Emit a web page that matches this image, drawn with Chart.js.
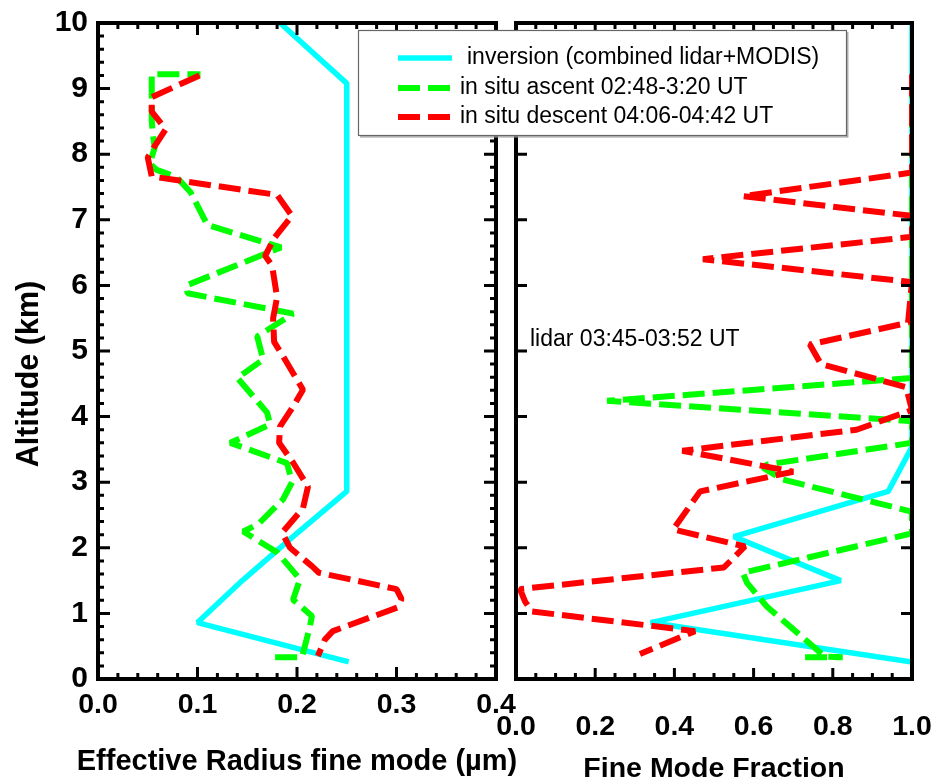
<!DOCTYPE html>
<html>
<head>
<meta charset="utf-8">
<script src="https://cdn.jsdelivr.net/npm/chart.js@4.4.1/dist/chart.umd.min.js"></script>
<style>
html,body{margin:0;padding:0;background:#fff;}
#wrap{position:relative;width:935px;height:783px;overflow:hidden;}
#wrap canvas{position:absolute;left:0;top:0;}
</style>
</head>
<body>
<div id="wrap">
<canvas id="rightChart" width="935" height="783"></canvas>
<canvas id="leftChart" width="935" height="783"></canvas>
</div>
<script>
// ---------------- data ----------------
const seriesNames = ['inversion (combined lidar+MODIS)', 'in situ ascent 02:48-3:20 UT', 'in situ descent 04:06-04:42 UT'];
const lidarNote = 'lidar 03:45-03:52 UT';
const leftXTitle = 'Effective Radius fine mode (µm)';
const rightXTitle = 'Fine Mode Fraction';
const yTitle = 'Altitude (km)';

// inversion profile (altitude km)
const invAlt  = [10, 9.08, 3.54, 2.86, 2.17, 1.5, 0.86, 0.26];
const invReff = [0.183, 0.25, 0.25, 0.25, 0.196, 0.145, 0.10, 0.252];
const invFmf  = [1.0, 1.0, 1.0, 0.94, 0.55, 0.82, 0.34, 1.0];

// in situ ascent: effective radius
const ascAltR = [0.33, 0.33, 0.80, 0.96, 1.21, 1.52, 1.93, 2.25, 2.36, 2.74, 3.0, 3.29, 3.6, 3.88, 4.06, 4.59, 4.87, 5.22, 5.57, 5.88, 6.0, 6.58, 6.92, 7.42, 7.65, 7.76, 7.86, 8.1, 8.32, 8.52, 9.22, 9.22];
const ascReff = [0.178, 0.205, 0.213, 0.215, 0.196, 0.203, 0.180, 0.146, 0.161, 0.186, 0.195, 0.190, 0.133, 0.173, 0.170, 0.140, 0.166, 0.160, 0.196, 0.090, 0.089, 0.184, 0.110, 0.093, 0.079, 0.059, 0.052, 0.057, 0.055, 0.054, 0.054, 0.103];

// in situ descent: effective radius
const descAltR = [9.2, 8.87, 8.65, 8.38, 8.1, 7.95, 7.66, 7.38, 7.06, 6.72, 6.45, 6.3, 5.82, 5.5, 5.14, 4.92, 4.41, 4.15, 3.85, 3.6, 3.3, 2.93, 2.6, 2.23, 2.0, 1.72, 1.62, 1.37, 1.22, 1.09, 0.73, 0.6, 0.35];
const descReff = [0.102, 0.054, 0.054, 0.068, 0.056, 0.050, 0.054, 0.180, 0.195, 0.177, 0.168, 0.175, 0.180, 0.176, 0.177, 0.186, 0.206, 0.196, 0.183, 0.182, 0.196, 0.211, 0.206, 0.185, 0.193, 0.215, 0.222, 0.300, 0.305, 0.301, 0.236, 0.228, 0.221];

// in situ ascent: fine mode fraction
const ascAltF = [0.33, 0.33, 0.34, 0.76, 1.1, 1.47, 1.62, 2.22, 2.55, 3.04, 3.22, 3.27, 3.6, 3.93, 4.24, 4.59, 9.22];
const ascFmf  = [0.73, 0.825, 0.78, 0.70, 0.634, 0.583, 0.573, 1.0, 1.0, 0.674, 0.624, 0.635, 1.0, 1.0, 0.23, 1.0, 1.0];

// in situ descent: fine mode fraction
const descAltF = [9.22, 7.72, 7.36, 7.06, 6.74, 6.40, 6.05, 5.43, 5.10, 4.80, 4.45, 4.10, 3.80, 3.48, 3.16, 2.86, 2.28, 2.02, 1.70, 1.37, 1.18, 1.03, 0.73, 0.38];
const descFmf  = [1.0, 1.0, 0.573, 1.0, 1.0, 0.472, 1.0, 0.99, 0.742, 0.77, 0.985, 1.0, 0.86, 0.42, 0.70, 0.465, 0.397, 0.578, 0.525, 0.01, 0.023, 0.04, 0.452, 0.313];

// axis ticks
const altTicks = [0,1,2,3,4,5,6,7,8,9,10];
const altTickLabels = ['0','1','2','3','4','5','6','7','8','9','10'];
const reffTicks = [0, 0.1, 0.2, 0.3, 0.4];
const reffTickLabels = ['0.0','0.1','0.2','0.3','0.4'];
const fmfTicks = [0, 0.2, 0.4, 0.6, 0.8, 1.0];
const fmfTickLabels = ['0.0','0.2','0.4','0.6','0.8','1.0'];

// ---------------- setup ----------------
const FONT = "'Liberation Sans', Arial, Helvetica, sans-serif";
Chart.defaults.font.family = FONT;
Chart.defaults.color = '#000';

function pts(xs, ys) { return xs.map((x, i) => ({ x: x, y: ys[i] })); }

const CYAN = '#00ffff', GREEN = '#00ff00', RED = '#ff0000';
const DASH = [22, 8];

function makeDatasets(xInv, xAsc, yAsc, xDesc, yDesc) {
  const common = { showLine: true, pointRadius: 0, clip: 0, borderJoinStyle: 'bevel', borderCapStyle: 'butt' };
  return [
    Object.assign({ label: seriesNames[0], data: pts(xInv, invAlt), borderColor: CYAN, backgroundColor: CYAN, borderWidth: 5.5, order: 3 }, common),
    Object.assign({ label: seriesNames[1], data: pts(xAsc, yAsc), borderColor: GREEN, backgroundColor: GREEN, borderWidth: 6, borderDash: DASH, order: 2 }, common),
    Object.assign({ label: seriesNames[2], data: pts(xDesc, yDesc), borderColor: RED, backgroundColor: RED, borderWidth: 6, borderDash: DASH, order: 1 }, common)
  ];
}

function noPad(s) { s.paddingLeft = 0; s.paddingRight = 0; s.paddingTop = 0; s.paddingBottom = 0; }

// inward tick marks and frame
const frameTicks = {
  id: 'frameTicks',
  afterDatasetsDraw(chart, args, o) {
    const ctx = chart.ctx, a = chart.chartArea, xs = chart.scales.x, ys = chart.scales.y;
    ctx.save();
    ctx.strokeStyle = '#000';
    ctx.lineCap = 'butt';
    ctx.lineWidth = o.tickWidth;
    const loop = (min, max, step, fn) => {
      const n = Math.round((max - min) / step);
      for (let i = 0; i <= n; i++) fn(min + i * step);
    };
    const isMajor = (v, major) => Math.abs(v / major - Math.round(v / major)) < 1e-6;
    ctx.beginPath();
    loop(xs.min, xs.max, o.xMinor || o.xMajor, (v) => {
      const px = xs.getPixelForValue(v);
      const len = isMajor(v, o.xMajor) ? o.majorLen : o.minorLen;
      ctx.moveTo(px, a.top); ctx.lineTo(px, a.top + len);
      ctx.moveTo(px, a.bottom); ctx.lineTo(px, a.bottom - len);
    });
    loop(ys.min, ys.max, o.yMinor || o.yMajor, (v) => {
      const py = ys.getPixelForValue(v);
      const len = isMajor(v, o.yMajor) ? o.majorLen : o.minorLen;
      ctx.moveTo(a.left, py); ctx.lineTo(a.left + len, py);
      ctx.moveTo(a.right, py); ctx.lineTo(a.right - len, py);
    });
    ctx.stroke();
    ctx.lineWidth = o.frameWidth;
    ctx.strokeRect(a.left, a.top, a.right - a.left, a.bottom - a.top);
    ctx.restore();
  }
};

// boxed legend built from the chart's datasets
const boxLegend = {
  id: 'boxLegend',
  afterDraw(chart, args, o) {
    if (!o.show) return;
    const ctx = chart.ctx;
    ctx.save();
    ctx.fillStyle = '#fff';
    ctx.fillRect(o.x, o.y, o.w, o.h);
    ctx.strokeStyle = '#666';
    ctx.lineWidth = 1.2;
    ctx.strokeRect(o.x + 0.5, o.y + 0.5, o.w, o.h);
    ctx.strokeStyle = '#999';
    ctx.beginPath();
    ctx.moveTo(o.x + 2, o.y + o.h + 1.8); ctx.lineTo(o.x + o.w + 1.8, o.y + o.h + 1.8); ctx.lineTo(o.x + o.w + 1.8, o.y + 2);
    ctx.stroke();
    chart.data.datasets.forEach((ds, i) => {
      const yy = o.rows[i];
      ctx.strokeStyle = ds.borderColor;
      ctx.lineWidth = ds.borderWidth;
      ctx.lineCap = 'butt';
      ctx.setLineDash(ds.borderDash || []);
      ctx.beginPath();
      ctx.moveTo(o.lineX0, yy); ctx.lineTo(o.lineX1, yy);
      ctx.stroke();
      ctx.setLineDash([]);
      ctx.fillStyle = '#000';
      ctx.font = o.fontSize + 'px ' + FONT;
      ctx.textBaseline = 'middle';
      ctx.textAlign = 'left';
      ctx.fillText(ds.label, o.textX + (i === 0 ? o.firstIndent : 0), yy);
    });
    ctx.restore();
  }
};

// free text items
const textItems = {
  id: 'textItems',
  afterDraw(chart, args, o) {
    const ctx = chart.ctx;
    (o.items || []).forEach(t => {
      ctx.save();
      ctx.fillStyle = '#000';
      ctx.font = (t.weight || 'normal') + ' ' + t.size + 'px ' + FONT;
      ctx.textBaseline = 'middle';
      ctx.textAlign = t.align || 'left';
      ctx.translate(t.x, t.y);
      if (t.rotation) ctx.rotate(t.rotation);
      ctx.fillText(t.text, 0, 0);
      ctx.restore();
    });
  }
};

const xTickFont = { size: 28.5, weight: 'bold' };
const yTickFont = { size: 30, weight: 'bold' };

// ---------------- right panel (Fine Mode Fraction) ----------------
new Chart(document.getElementById('rightChart'), {
  type: 'scatter',
  data: { datasets: makeDatasets(invFmf, ascFmf, ascAltF, descFmf, descAltF) },
  options: {
    responsive: false, animation: false, events: [],
    layout: { padding: { left: 516, top: 23, right: 23, bottom: 0 } },
    plugins: {
      legend: { display: false }, tooltip: { enabled: false },
      frameTicks: { xMinor: 0.05, xMajor: 0.2, yMinor: null, yMajor: 1, majorLen: 11, minorLen: 6, tickWidth: 3, frameWidth: 4 },
      textItems: { items: [ { text: lidarNote, x: 530, y: 340, size: 23 } ] }
    },
    scales: {
      x: {
        type: 'linear', min: 0, max: 1,
        afterBuildTicks: s => { s.ticks = fmfTicks.map(v => ({ value: v })); },
        afterFit: s => { s.height = 104; noPad(s); },
        grid: { display: false, drawTicks: false }, border: { display: false },
        ticks: { padding: 31, font: xTickFont, maxRotation: 0, autoSkip: false, callback: (v, i) => fmfTickLabels[i] },
        title: { display: true, text: rightXTitle, font: { size: 28.5, weight: 'bold', lineHeight: 1 }, padding: { top: 0, bottom: 0 } }
      },
      y: {
        type: 'linear', min: 0, max: 10,
        afterBuildTicks: s => { s.ticks = altTicks.map(v => ({ value: v })); },
        afterFit: s => { s.width = 0; noPad(s); },
        grid: { display: false, drawTicks: false }, border: { display: false },
        ticks: { display: false }
      }
    }
  },
  plugins: [frameTicks, textItems]
});

// ---------------- left panel (Effective Radius) ----------------
new Chart(document.getElementById('leftChart'), {
  type: 'scatter',
  data: { datasets: makeDatasets(invReff, ascReff, ascAltR, descReff, descAltR) },
  options: {
    responsive: false, animation: false, events: [],
    layout: { padding: { left: 0, top: 23, right: 439, bottom: 0 } },
    plugins: {
      legend: { display: false }, tooltip: { enabled: false },
      frameTicks: { xMinor: 0.02, xMajor: 0.1, yMinor: 0.2, yMajor: 1, majorLen: 12, minorLen: 6, tickWidth: 3, frameWidth: 4 },
      boxLegend: { show: true, x: 358, y: 30, w: 488, h: 105, rows: [58, 88, 117], lineX0: 398, lineX1: 452, textX: 460, firstIndent: 7, fontSize: 23 },
      textItems: { items: [
        { text: leftXTitle, x: 297, y: 762, size: 29, weight: 'bold', align: 'center' },
        { text: yTitle, x: 30, y: 374, size: 30.5, weight: 'bold', align: 'center', rotation: -Math.PI / 2 }
      ] }
    },
    scales: {
      x: {
        type: 'linear', min: 0, max: 0.4,
        afterBuildTicks: s => { s.ticks = reffTicks.map(v => ({ value: v })); },
        afterFit: s => { s.height = 104; noPad(s); },
        grid: { display: false, drawTicks: false }, border: { display: false },
        ticks: { padding: 9, font: xTickFont, maxRotation: 0, autoSkip: false, callback: (v, i) => reffTickLabels[i] }
      },
      y: {
        type: 'linear', min: 0, max: 10,
        afterBuildTicks: s => { s.ticks = altTicks.map(v => ({ value: v })); },
        afterFit: s => { s.width = 98; noPad(s); },
        grid: { display: false, drawTicks: false }, border: { display: false },
        ticks: { padding: 10, font: yTickFont, callback: (v, i) => altTickLabels[i] }
      }
    }
  },
  plugins: [frameTicks, boxLegend, textItems]
});
</script>
</body>
</html>
